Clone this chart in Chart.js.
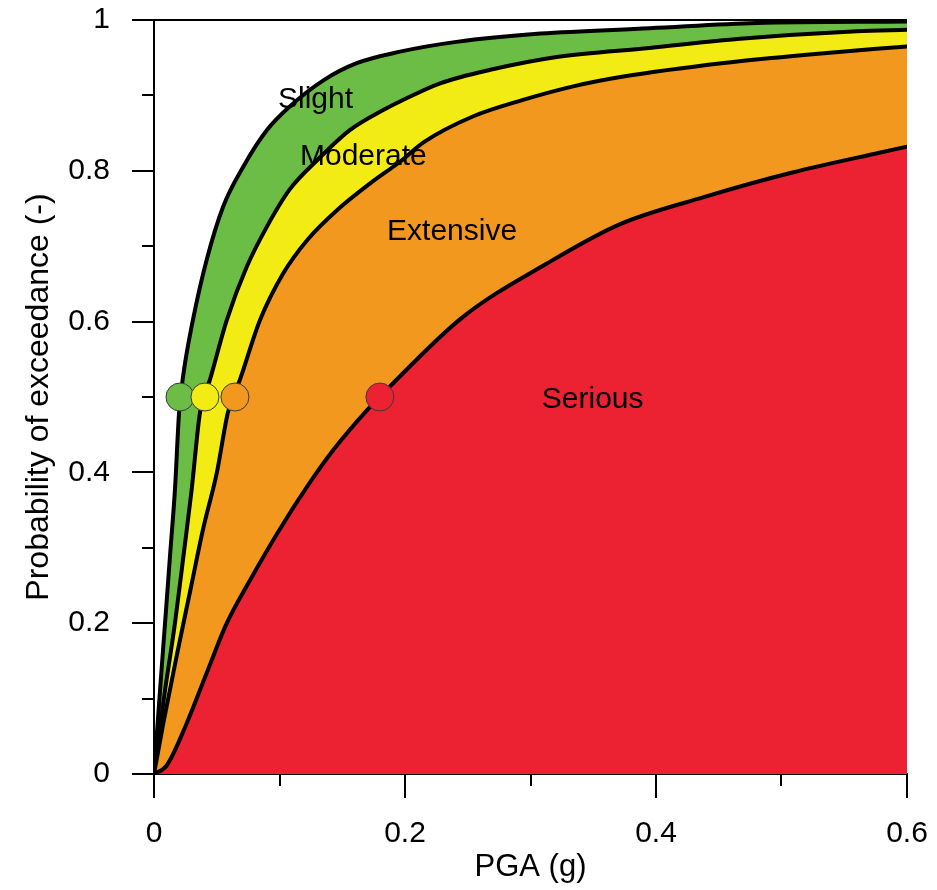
<!DOCTYPE html>
<html>
<head>
<meta charset="utf-8">
<script src="https://cdn.jsdelivr.net/npm/chart.js@4/dist/chart.umd.min.js"></script>
<style>
  html, body { margin: 0; padding: 0; background: #ffffff; }
  canvas { display: block; }
</style>
</head>
<body>
<canvas id="fragility" width="937" height="890"></canvas>
<script>
// Fragility curves: probability of exceeding each damage state vs PGA (g)
const slightPga  = [0, 0.0048, 0.0088, 0.0127, 0.0167, 0.0200, 0.0234, 0.031, 0.042, 0.055, 0.071, 0.090, 0.108, 0.135, 0.162, 0.196, 0.241, 0.308, 0.395, 0.48, 0.6];
const slightProb = [0, 0.111, 0.200, 0.288, 0.377, 0.480, 0.530, 0.602, 0.682, 0.752, 0.805, 0.854, 0.885, 0.920, 0.943, 0.958, 0.971, 0.982, 0.989, 0.996, 0.998];

const moderatePga  = [0, 0.0034, 0.0088, 0.0167, 0.0234, 0.030, 0.0367, 0.0446, 0.058, 0.074, 0.090, 0.108, 0.130, 0.156, 0.183, 0.196, 0.228, 0.268, 0.321, 0.395, 0.467, 0.56, 0.6];
const moderateProb = [0, 0.045, 0.111, 0.200, 0.288, 0.377, 0.480, 0.523, 0.602, 0.673, 0.726, 0.775, 0.814, 0.854, 0.881, 0.892, 0.916, 0.934, 0.951, 0.963, 0.975, 0.985, 0.987];

const extensivePga  = [0, 0.0074, 0.018, 0.029, 0.039, 0.050, 0.059, 0.0685, 0.0845, 0.103, 0.122, 0.146, 0.172, 0.196, 0.215, 0.254, 0.294, 0.334, 0.374, 0.454, 0.52, 0.6];
const extensiveProb = [0, 0.067, 0.156, 0.244, 0.324, 0.399, 0.480, 0.523, 0.602, 0.664, 0.708, 0.748, 0.783, 0.812, 0.838, 0.872, 0.894, 0.912, 0.925, 0.943, 0.954, 0.965];

const seriousPga  = [0, 0.0100, 0.025, 0.042, 0.058, 0.0765, 0.100, 0.124, 0.143, 0.170, 0.180, 0.188, 0.246, 0.313, 0.371, 0.438, 0.507, 0.578, 0.6];
const seriousProb = [0, 0.011, 0.063, 0.134, 0.200, 0.257, 0.324, 0.386, 0.430, 0.483, 0.500, 0.514, 0.606, 0.677, 0.729, 0.765, 0.797, 0.824, 0.832];

// Median PGA of each damage state (50% exceedance)
const stateNames = ['Slight', 'Moderate', 'Extensive', 'Serious'];
const medianPga  = [0.0207, 0.0406, 0.0645, 0.180];
const medianProb = [0.5, 0.5, 0.5, 0.5];

const GREEN = '#6bbd45', YELLOW = '#f2ec14', ORANGE = '#f3981f', RED = '#ec2132';
const FONT = "'Liberation Sans', Arial, sans-serif";

const toPoints = (xs, ys) => xs.map((x, i) => ({ x: x, y: ys[i] }));

function curve(label, xs, ys, color, order) {
  return {
    type: 'line',
    label: label,
    data: toPoints(xs, ys),
    borderColor: '#000000',
    borderWidth: 4,
    borderJoinStyle: 'round',
    borderCapStyle: 'round',
    backgroundColor: color,
    fill: 'origin',
    pointRadius: 0,
    cubicInterpolationMode: 'monotone',
    order: order
  };
}

// Damage-state names placed inside their bands (left edge, baseline) in data units
const bandLabels = [
  { text: 'Slight',    x: 0.0988, y: 0.883 },
  { text: 'Moderate',  x: 0.1163, y: 0.808 },
  { text: 'Extensive', x: 0.1857, y: 0.708 },
  { text: 'Serious',   x: 0.309,  y: 0.485 }
];

const fmt = v => String(Math.round(v * 10) / 10);

// Minor tick marks, top frame line and band names
const decorations = {
  id: 'decorations',
  afterDatasetsDraw(chart) {
    const { ctx, scales } = chart;
    ctx.save();
    ctx.fillStyle = '#000';
    ctx.font = '30px ' + FONT;
    ctx.textAlign = 'left';
    ctx.textBaseline = 'alphabetic';
    bandLabels.forEach(l => {
      ctx.fillText(l.text, scales.x.getPixelForValue(l.x), scales.y.getPixelForValue(l.y));
    });
    ctx.restore();
  },
  afterDraw(chart) {
    const { ctx, chartArea, scales } = chart;
    ctx.save();
    ctx.strokeStyle = '#000';
    ctx.lineWidth = 2;
    ctx.beginPath();
    scales.x.ticks.forEach((t, i) => {
      if (i % 2 === 1) {
        const px = Math.round(scales.x.getPixelForValue(t.value));
        ctx.moveTo(px, chartArea.bottom);
        ctx.lineTo(px, chartArea.bottom + 12);
      }
    });
    scales.y.ticks.forEach((t, i) => {
      if (i % 2 === 1) {
        const py = Math.round(scales.y.getPixelForValue(t.value));
        ctx.moveTo(chartArea.left - 12, py);
        ctx.lineTo(chartArea.left, py);
      }
    });
    ctx.moveTo(chartArea.left, chartArea.top);
    ctx.lineTo(chartArea.right, chartArea.top);
    ctx.stroke();
    ctx.restore();
  }
};

new Chart(document.getElementById('fragility'), {
  type: 'scatter',
  data: {
    datasets: [
      {
        type: 'scatter',
        label: 'Median',
        data: toPoints(medianPga, medianProb),
        pointRadius: 14,
        pointBackgroundColor: [GREEN, YELLOW, ORANGE, RED],
        pointBorderColor: '#3a3a3a',
        pointBorderWidth: 1,
        order: 0
      },
      curve(stateNames[3], seriousPga, seriousProb, RED, 1),
      curve(stateNames[2], extensivePga, extensiveProb, ORANGE, 2),
      curve(stateNames[1], moderatePga, moderateProb, YELLOW, 3),
      curve(stateNames[0], slightPga, slightProb, GREEN, 4)
    ]
  },
  options: {
    responsive: false,
    animation: false,
    events: [],
    layout: { padding: { top: 20, right: 30, left: 0, bottom: 0 } },
    plugins: { legend: { display: false }, tooltip: { enabled: false } },
    scales: {
      x: {
        type: 'linear',
        min: 0, max: 0.6,
        afterFit: s => { s.height = 116; s.paddingLeft = 0; s.paddingRight = 0; },
        border: { display: true, color: '#000', width: 2 },
        grid: {
          drawOnChartArea: false, drawTicks: true, tickLength: 24, lineWidth: 2,
          color: c => (c.index % 2 === 0 ? '#000' : 'rgba(0,0,0,0)')
        },
        ticks: {
          stepSize: 0.1, autoSkip: false, maxRotation: 0, padding: 18,
          color: '#000', font: { family: FONT, size: 30 },
          callback: (v, i) => (i % 2 === 0 ? fmt(v) : '')
        },
        title: {
          display: true, text: 'PGA (g)', color: '#000',
          font: { family: FONT, size: 31 }, padding: { top: 0, bottom: 4 }
        }
      },
      y: {
        type: 'linear',
        min: 0, max: 1,
        afterFit: s => { s.width = 154; s.paddingTop = 0; s.paddingBottom = 0; },
        border: { display: true, color: '#000', width: 2 },
        grid: {
          drawOnChartArea: false, drawTicks: true, tickLength: 22, lineWidth: 2,
          color: c => (c.index % 2 === 0 ? '#000' : 'rgba(0,0,0,0)')
        },
        ticks: {
          stepSize: 0.1, autoSkip: false, padding: 22,
          color: '#000', font: { family: FONT, size: 30 },
          callback: (v, i) => (i % 2 === 0 ? fmt(v) : '')
        },
        title: {
          display: true, text: 'Probability of exceedance (-)', color: '#000',
          font: { family: FONT, size: 32 }, padding: { top: 20, bottom: 0 }
        }
      }
    }
  },
  plugins: [decorations]
});
</script>
</body>
</html>
